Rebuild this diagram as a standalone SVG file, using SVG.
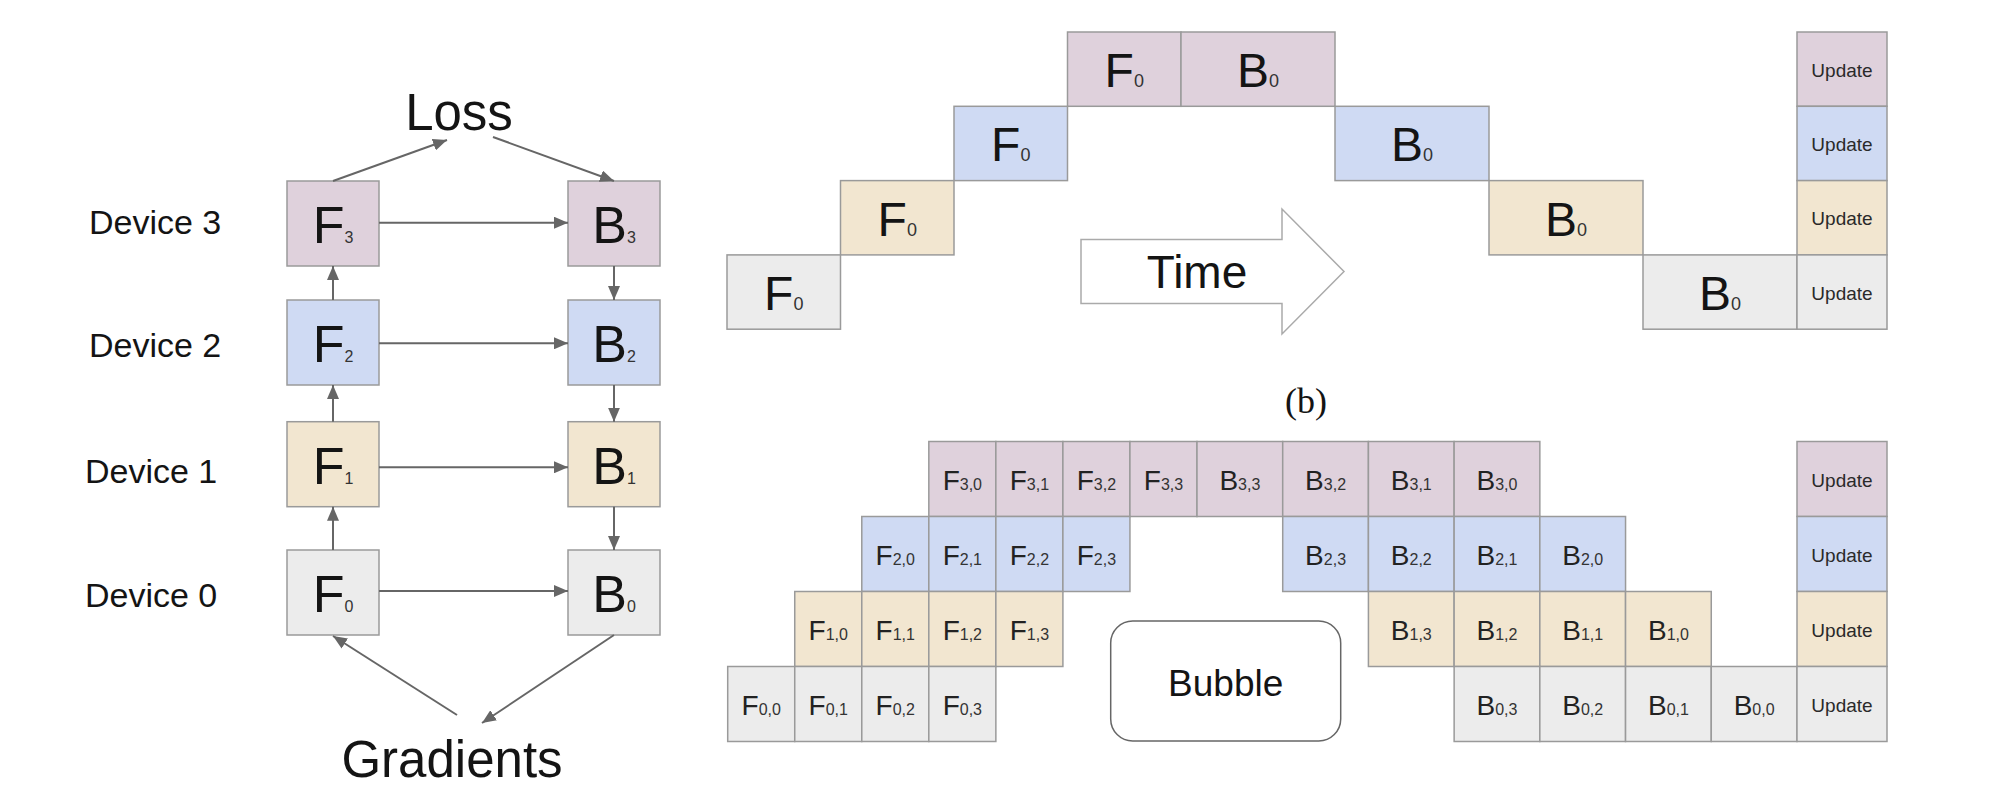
<svg xmlns="http://www.w3.org/2000/svg" width="2004" height="804" viewBox="0 0 2004 804">
<style>
text{font-family:"Liberation Sans",Arial,sans-serif;fill:#141414;text-anchor:middle}
.c{stroke:#9a9a9a;stroke-width:1.5}
.p{fill:#dfd1dc}.b{fill:#cfdaf3}.t{fill:#f2e6d0}.g{fill:#ececec}
.L{font-size:52px}.Ls{font-size:16px;fill:#333}
.T{font-size:48px}.Ts{font-size:18px;fill:#333}
.S{font-size:28px;fill:#222}.Ss{font-size:16px;fill:#333}
.U{font-size:19px;fill:#2a2a2a}
.dev{font-size:34px;text-anchor:start}
.big{font-size:51px}
.ar{stroke:#666;stroke-width:2;fill:none;marker-end:url(#ah)}
</style>
<defs>
<marker id="ah" markerUnits="userSpaceOnUse" markerWidth="14" markerHeight="12" refX="14" refY="6" orient="auto"><path d="M0,0 L14,6 L0,12 z" fill="#666"/></marker>
</defs>
<rect width="2004" height="804" fill="#fff"/>

<!-- Left panel -->
<g id="labels">
<text class="big" x="459" y="130">Loss</text>
<text class="big" x="452" y="777">Gradients</text>
<text class="dev" x="89" y="234">Device 3</text>
<text class="dev" x="89" y="357">Device 2</text>
<text class="dev" x="85" y="483">Device 1</text>
<text class="dev" x="85" y="607">Device 0</text>
</g>
<g id="L-F3"><rect class="c p" x="287" y="181" width="92" height="85"/><text class="L" x="333" y="243">F<tspan class="Ls">3</tspan></text></g>
<g id="L-F2"><rect class="c b" x="287" y="300" width="92" height="85"/><text class="L" x="333" y="362">F<tspan class="Ls">2</tspan></text></g>
<g id="L-F1"><rect class="c t" x="287" y="421.7" width="92" height="85"/><text class="L" x="333" y="483.7">F<tspan class="Ls">1</tspan></text></g>
<g id="L-F0"><rect class="c g" x="287" y="550" width="92" height="85"/><text class="L" x="333" y="612">F<tspan class="Ls">0</tspan></text></g>
<g id="L-B3"><rect class="c p" x="568" y="181" width="92" height="85"/><text class="L" x="614" y="243">B<tspan class="Ls">3</tspan></text></g>
<g id="L-B2"><rect class="c b" x="568" y="300" width="92" height="85"/><text class="L" x="614" y="362">B<tspan class="Ls">2</tspan></text></g>
<g id="L-B1"><rect class="c t" x="568" y="421.7" width="92" height="85"/><text class="L" x="614" y="483.7">B<tspan class="Ls">1</tspan></text></g>
<g id="L-B0"><rect class="c g" x="568" y="550" width="92" height="85"/><text class="L" x="614" y="612">B<tspan class="Ls">0</tspan></text></g>

<g id="connectors">
<line class="ar" x1="333" y1="550" x2="333" y2="506.7"/>
<line class="ar" x1="333" y1="421.7" x2="333" y2="385"/>
<line class="ar" x1="333" y1="300" x2="333" y2="266"/>
<line class="ar" x1="614" y1="266" x2="614" y2="300"/>
<line class="ar" x1="614" y1="385" x2="614" y2="421.7"/>
<line class="ar" x1="614" y1="506.7" x2="614" y2="550"/>
<line class="ar" x1="379" y1="222.7" x2="568" y2="222.7"/>
<line class="ar" x1="379" y1="343.3" x2="568" y2="343.3"/>
<line class="ar" x1="379" y1="467.3" x2="568" y2="467.3"/>
<line class="ar" x1="379" y1="591" x2="568" y2="591"/>
<line class="ar" x1="333" y1="181" x2="447" y2="140"/>
<line class="ar" x1="493" y1="137" x2="614" y2="181"/>
<line class="ar" x1="457" y1="715" x2="333" y2="636"/>
<line class="ar" x1="614" y1="635" x2="482" y2="723"/>
</g>

<!-- Top chart -->
<g id="top-F-d3"><rect class="c p" x="1067.5" y="32" width="113.5" height="74.3"/><text class="T" x="1124.25" y="87">F<tspan class="Ts">0</tspan></text></g>
<g id="top-B-d3"><rect class="c p" x="1181" y="32" width="154" height="74.3"/><text class="T" x="1258" y="87">B<tspan class="Ts">0</tspan></text></g>
<g id="top-U-d3"><rect class="c p" x="1797" y="32" width="90" height="74.3"/><text class="U" x="1842" y="76.7">Update</text></g>
<g id="top-F-d2"><rect class="c b" x="954" y="106.3" width="113.5" height="74.3"/><text class="T" x="1010.75" y="161.3">F<tspan class="Ts">0</tspan></text></g>
<g id="top-B-d2"><rect class="c b" x="1335" y="106.3" width="154" height="74.3"/><text class="T" x="1412" y="161.3">B<tspan class="Ts">0</tspan></text></g>
<g id="top-U-d2"><rect class="c b" x="1797" y="106.3" width="90" height="74.3"/><text class="U" x="1842" y="151">Update</text></g>
<g id="top-F-d1"><rect class="c t" x="840.5" y="180.6" width="113.5" height="74.3"/><text class="T" x="897.25" y="235.6">F<tspan class="Ts">0</tspan></text></g>
<g id="top-B-d1"><rect class="c t" x="1489" y="180.6" width="154" height="74.3"/><text class="T" x="1566" y="235.6">B<tspan class="Ts">0</tspan></text></g>
<g id="top-U-d1"><rect class="c t" x="1797" y="180.6" width="90" height="74.3"/><text class="U" x="1842" y="225.3">Update</text></g>
<g id="top-F-d0"><rect class="c g" x="727" y="254.9" width="113.5" height="74.3"/><text class="T" x="783.75" y="309.9">F<tspan class="Ts">0</tspan></text></g>
<g id="top-B-d0"><rect class="c g" x="1643" y="254.9" width="154" height="74.3"/><text class="T" x="1720" y="309.9">B<tspan class="Ts">0</tspan></text></g>
<g id="top-U-d0"><rect class="c g" x="1797" y="254.9" width="90" height="74.3"/><text class="U" x="1842" y="299.6">Update</text></g>

<g id="time-arrow"><polygon points="1081,239.5 1282,239.5 1282,209 1344,271.5 1282,334 1282,303.5 1081,303.5" fill="#fff" stroke="#aaa" stroke-width="1.5"/><text x="1197" y="288" style="font-size:46px">Time</text></g>

<g id="caption-b"><text x="1306" y="413" style="font-family:'Liberation Serif','Times New Roman',serif;font-size:36px">(b)</text></g>

<!-- Bottom chart -->
<!-- Row 3 purple y=441.5 -->
<g id="F30"><rect class="c p" x="928.82" y="441.5" width="67.04" height="75"/><text class="S" x="962.34" y="490">F<tspan class="Ss">3,0</tspan></text></g>
<g id="F31"><rect class="c p" x="995.86" y="441.5" width="67.04" height="75"/><text class="S" x="1029.38" y="490">F<tspan class="Ss">3,1</tspan></text></g>
<g id="F32"><rect class="c p" x="1062.9" y="441.5" width="67.04" height="75"/><text class="S" x="1096.42" y="490">F<tspan class="Ss">3,2</tspan></text></g>
<g id="F33"><rect class="c p" x="1129.94" y="441.5" width="67.06" height="75"/><text class="S" x="1163.46" y="490">F<tspan class="Ss">3,3</tspan></text></g>
<g id="B33"><rect class="c p" x="1197" y="441.5" width="85.71" height="75"/><text class="S" x="1239.86" y="490">B<tspan class="Ss">3,3</tspan></text></g>
<g id="B32"><rect class="c p" x="1282.71" y="441.5" width="85.71" height="75"/><text class="S" x="1325.57" y="490">B<tspan class="Ss">3,2</tspan></text></g>
<g id="B31"><rect class="c p" x="1368.42" y="441.5" width="85.71" height="75"/><text class="S" x="1411.28" y="490">B<tspan class="Ss">3,1</tspan></text></g>
<g id="B30"><rect class="c p" x="1454.13" y="441.5" width="85.71" height="75"/><text class="S" x="1496.99" y="490">B<tspan class="Ss">3,0</tspan></text></g>
<g id="U3"><rect class="c p" x="1797" y="441.5" width="90" height="75"/><text class="U" x="1842" y="486.5">Update</text></g>
<!-- Row 2 blue y=516.5 -->
<g id="F20"><rect class="c b" x="861.78" y="516.5" width="67.04" height="75"/><text class="S" x="895.3" y="565">F<tspan class="Ss">2,0</tspan></text></g>
<g id="F21"><rect class="c b" x="928.82" y="516.5" width="67.04" height="75"/><text class="S" x="962.34" y="565">F<tspan class="Ss">2,1</tspan></text></g>
<g id="F22"><rect class="c b" x="995.86" y="516.5" width="67.04" height="75"/><text class="S" x="1029.38" y="565">F<tspan class="Ss">2,2</tspan></text></g>
<g id="F23"><rect class="c b" x="1062.9" y="516.5" width="67.04" height="75"/><text class="S" x="1096.42" y="565">F<tspan class="Ss">2,3</tspan></text></g>
<g id="B23"><rect class="c b" x="1282.71" y="516.5" width="85.71" height="75"/><text class="S" x="1325.57" y="565">B<tspan class="Ss">2,3</tspan></text></g>
<g id="B22"><rect class="c b" x="1368.42" y="516.5" width="85.71" height="75"/><text class="S" x="1411.28" y="565">B<tspan class="Ss">2,2</tspan></text></g>
<g id="B21"><rect class="c b" x="1454.13" y="516.5" width="85.71" height="75"/><text class="S" x="1496.99" y="565">B<tspan class="Ss">2,1</tspan></text></g>
<g id="B20"><rect class="c b" x="1539.84" y="516.5" width="85.71" height="75"/><text class="S" x="1582.7" y="565">B<tspan class="Ss">2,0</tspan></text></g>
<g id="U2"><rect class="c b" x="1797" y="516.5" width="90" height="75"/><text class="U" x="1842" y="561.5">Update</text></g>
<!-- Row 1 tan y=591.5 -->
<g id="F10"><rect class="c t" x="794.74" y="591.5" width="67.04" height="75"/><text class="S" x="828.26" y="640">F<tspan class="Ss">1,0</tspan></text></g>
<g id="F11"><rect class="c t" x="861.78" y="591.5" width="67.04" height="75"/><text class="S" x="895.3" y="640">F<tspan class="Ss">1,1</tspan></text></g>
<g id="F12"><rect class="c t" x="928.82" y="591.5" width="67.04" height="75"/><text class="S" x="962.34" y="640">F<tspan class="Ss">1,2</tspan></text></g>
<g id="F13"><rect class="c t" x="995.86" y="591.5" width="67.04" height="75"/><text class="S" x="1029.38" y="640">F<tspan class="Ss">1,3</tspan></text></g>
<g id="B13"><rect class="c t" x="1368.42" y="591.5" width="85.71" height="75"/><text class="S" x="1411.28" y="640">B<tspan class="Ss">1,3</tspan></text></g>
<g id="B12"><rect class="c t" x="1454.13" y="591.5" width="85.71" height="75"/><text class="S" x="1496.99" y="640">B<tspan class="Ss">1,2</tspan></text></g>
<g id="B11"><rect class="c t" x="1539.84" y="591.5" width="85.71" height="75"/><text class="S" x="1582.7" y="640">B<tspan class="Ss">1,1</tspan></text></g>
<g id="B10"><rect class="c t" x="1625.55" y="591.5" width="85.71" height="75"/><text class="S" x="1668.41" y="640">B<tspan class="Ss">1,0</tspan></text></g>
<g id="U1"><rect class="c t" x="1797" y="591.5" width="90" height="75"/><text class="U" x="1842" y="636.5">Update</text></g>
<!-- Row 0 gray y=666.5 -->
<g id="F00"><rect class="c g" x="727.7" y="666.5" width="67.04" height="75"/><text class="S" x="761.22" y="715">F<tspan class="Ss">0,0</tspan></text></g>
<g id="F01"><rect class="c g" x="794.74" y="666.5" width="67.04" height="75"/><text class="S" x="828.26" y="715">F<tspan class="Ss">0,1</tspan></text></g>
<g id="F02"><rect class="c g" x="861.78" y="666.5" width="67.04" height="75"/><text class="S" x="895.3" y="715">F<tspan class="Ss">0,2</tspan></text></g>
<g id="F03"><rect class="c g" x="928.82" y="666.5" width="67.04" height="75"/><text class="S" x="962.34" y="715">F<tspan class="Ss">0,3</tspan></text></g>
<g id="B03"><rect class="c g" x="1454.13" y="666.5" width="85.71" height="75"/><text class="S" x="1496.99" y="715">B<tspan class="Ss">0,3</tspan></text></g>
<g id="B02"><rect class="c g" x="1539.84" y="666.5" width="85.71" height="75"/><text class="S" x="1582.7" y="715">B<tspan class="Ss">0,2</tspan></text></g>
<g id="B01"><rect class="c g" x="1625.55" y="666.5" width="85.71" height="75"/><text class="S" x="1668.41" y="715">B<tspan class="Ss">0,1</tspan></text></g>
<g id="B00"><rect class="c g" x="1711.26" y="666.5" width="85.74" height="75"/><text class="S" x="1754.12" y="715">B<tspan class="Ss">0,0</tspan></text></g>
<g id="U0"><rect class="c g" x="1797" y="666.5" width="90" height="75"/><text class="U" x="1842" y="711.5">Update</text></g>

<g id="bubble"><rect x="1110.7" y="621" width="230" height="120" rx="22" ry="22" fill="#fff" stroke="#666" stroke-width="1.5"/><text x="1225.7" y="696" style="font-size:37px">Bubble</text></g>
</svg>
